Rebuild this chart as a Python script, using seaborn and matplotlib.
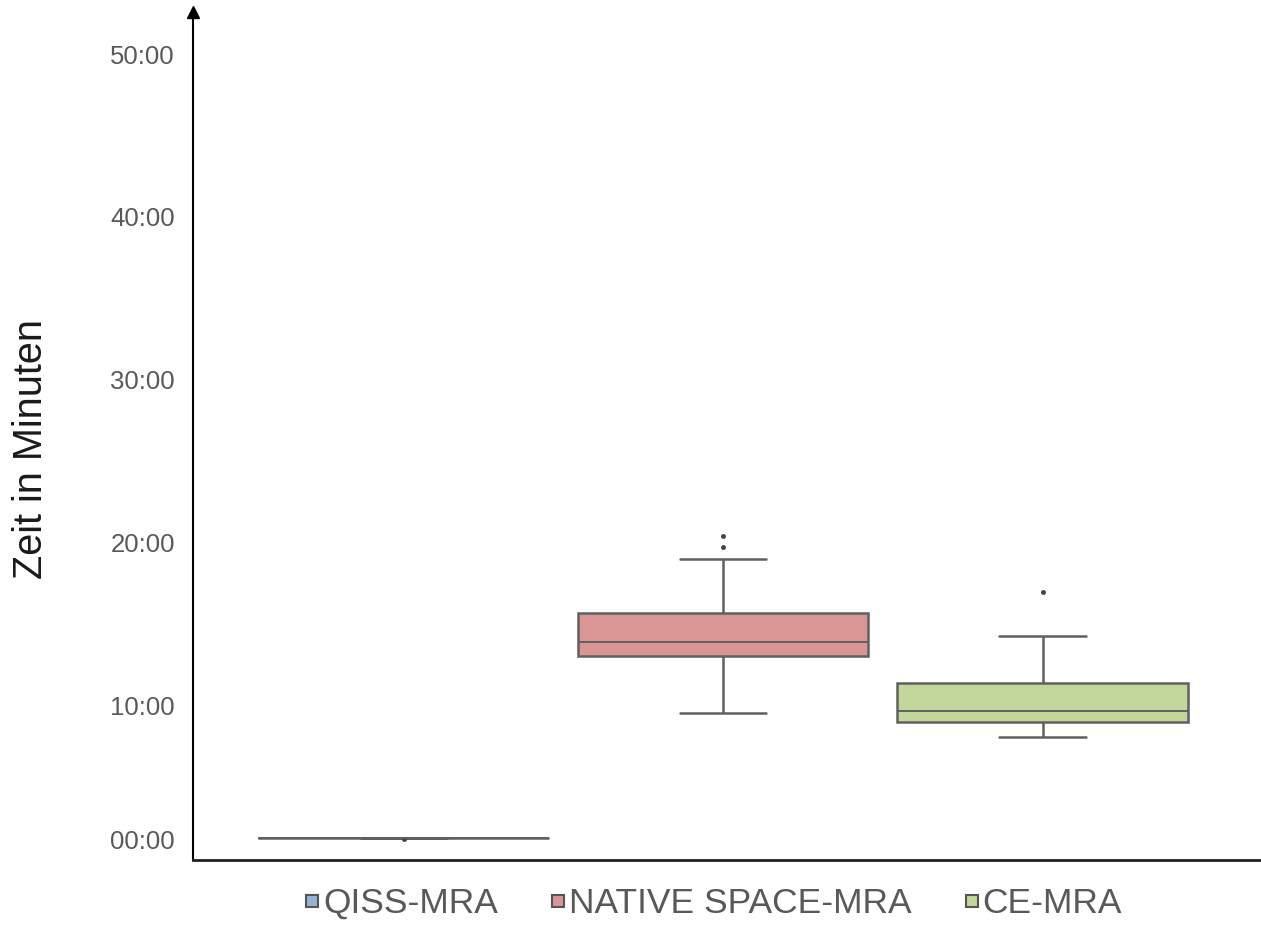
import pandas as pd
import numpy as np
import matplotlib.pyplot as plt
import seaborn as sns
from matplotlib.lines import Line2D


# ---------------------------
# 1. DATA (minutes)
# ---------------------------
categories = ['QISS-MRA', 'NATIVE SPACE-MRA', 'CE-MRA']

qiss = [1.82, 1.82, 1.82, 1.82, 1.82, 1.82, 1.82, 1.82, 1.80]
native = [9.52, 11.2, 12.4, 13.02, 13.4, 13.7, 13.88, 14.5, 15.1,
          15.66, 18.98, 19.72, 20.39]
ce = [8.03, 8.5, 8.94, 9.3, 9.67, 10.4, 11.38, 14.23, 16.97]

colors = ['#95B3D7', '#D99694', '#C3D69B']

tick_labels = ['00:00', '10:00', '20:00', '30:00', '40:00', '50:00']
tick_pos = [1.72, 10, 20, 30, 40, 50]

df = pd.DataFrame({
    'Methode': [categories[0]] * len(qiss) + [categories[1]] * len(native)
               + [categories[2]] * len(ce),
    'Zeit': qiss + native + ce,
})


# ---------------------------
# 2. PLOT
# ---------------------------
sns.set_style('white')
plt.rcParams['font.family'] = ['Liberation Sans', 'DejaVu Sans']

fig = plt.figure(figsize=(12.61, 9.26), dpi=100)
ax = fig.add_axes([0.153, 0.0713, 0.846, 0.916])

line_col = '#606060'
sns.boxplot(
    data=df, x='Methode', y='Zeit', hue='Methode',
    order=categories, hue_order=categories,
    palette=colors, dodge=False, legend=False,
    width=0.91, linecolor=line_col, linewidth=1.8,
    capwidths=0.27, saturation=1,
    flierprops=dict(marker='o', markersize=2.5,
                    markerfacecolor='#444444', markeredgecolor='#444444'),
    medianprops=dict(linewidth=1.4),
    ax=ax,
)

ax.set_xlim(-0.66, 2.68)
ax.set_ylim(0.49, 52.6)
ax.set_yticks(tick_pos)
ax.set_yticklabels(tick_labels)
ax.tick_params(axis='y', length=0, pad=13, labelsize=18.5, labelcolor='#595959')
ax.set_xticks([])
ax.set_xlabel('')
ax.set_ylabel('Zeit in Minuten', fontsize=28.5, color='#1a1a1a')
ax.yaxis.set_label_coords(-0.134, 0.485)

for side in ['top', 'right']:
    ax.spines[side].set_visible(False)
ax.spines['left'].set_color('black')
ax.spines['left'].set_linewidth(1.5)
ax.spines['bottom'].set_color('#222222')
ax.spines['bottom'].set_linewidth(2)

# arrow head on the y axis
ax.plot(0, 1, marker='^', markersize=8, color='black',
        transform=ax.transAxes, clip_on=False)

# legend below the axis
handles = [Line2D([], [], linestyle='none', marker='s', markersize=8,
                  markerfacecolor=c, markeredgecolor='#555555',
                  markeredgewidth=1.5) for c in colors]
ax.legend(handles, categories, loc='upper center', bbox_to_anchor=(0.488, -0.007),
          ncol=3, frameon=False, fontsize=25.5, labelcolor='#595959',
          handlelength=0.4, handletextpad=0.1, columnspacing=1.5,
          borderaxespad=0.2)

plt.savefig('out.png', dpi=100)
plt.close()
